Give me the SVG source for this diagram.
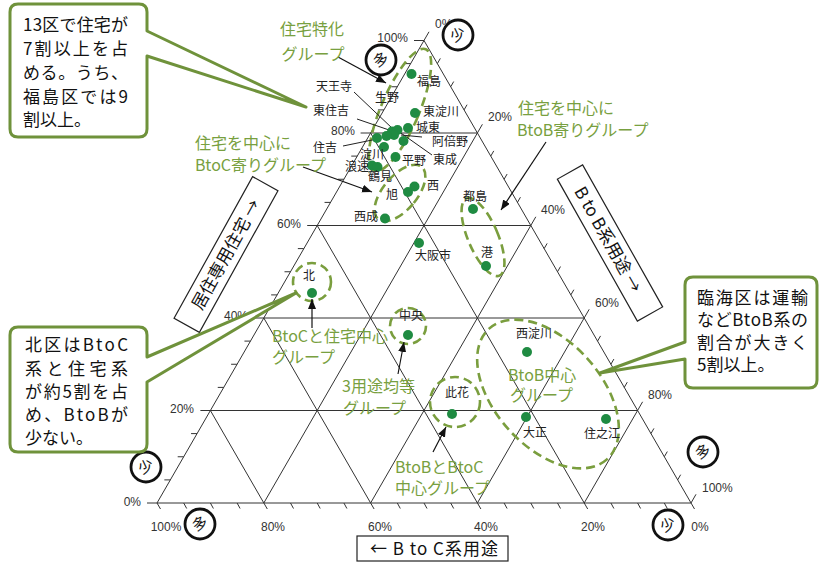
<svg xmlns="http://www.w3.org/2000/svg" width="819" height="562" viewBox="0 0 819 562">
<style>
.lbl{font-family:"Noto Sans CJK JP",sans-serif;font-size:12px;fill:#222}
.grp{font-family:"Noto Sans CJK JP",sans-serif;font-size:16px;fill:#78a040}
.pct{font-family:"Liberation Sans Narrow","Liberation Sans",sans-serif;font-size:12px;fill:#333}
.co{font-family:"Noto Sans CJK JP",sans-serif;font-size:17px;fill:#111}
.ax{font-family:"Noto Sans CJK JP",sans-serif;font-size:17px;fill:#111}
.grid{stroke:#333;stroke-width:1;fill:none}
.dash{fill:none;stroke:#7a9e3e;stroke-width:2.6;stroke-dasharray:9 5}
.dot{fill:#1f8b42}
.callout{fill:#fff;stroke:#6f923b;stroke-width:3;stroke-linejoin:round}
.arr{stroke:#111;stroke-width:1.2;fill:none;marker-end:url(#ah)}
.lead{stroke:#222;stroke-width:1;fill:none}
.qc{fill:#fff;stroke:#111;stroke-width:2.8}
.qt{font-family:"Noto Sans CJK JP",sans-serif;font-size:15px;fill:#111;text-anchor:middle}
.box{fill:#fff;stroke:#222;stroke-width:1.2}
</style>
<defs>
<marker id="ah" markerWidth="11" markerHeight="9" refX="10" refY="4" orient="auto" markerUnits="userSpaceOnUse"><path d="M0,0 L10,4 L0,8 z" fill="#111"/></marker>
</defs>
<rect width="819" height="562" fill="#fff"/>

<g id="grid">
<path class="grid" stroke-width="1.2" d="M147,503 H691 M157,503 L429,31.8 M424,40.5 L694.5,509 M414,40.5 H424"/>
<path class="grid" d="M200.4,410.5 H637.6 M253.8,318 H584.2 M307.2,225.5 H530.8 M360.6,133 H477.4
M267.3,509 L210.4,410.5 M374.1,509 L263.8,318 M480.9,509 L317.2,225.5 M587.7,509 L370.6,133 M157,503 L160.5,509
M263.8,503 L482.4,124.3 M370.6,503 L535.8,216.8 M477.4,503 L589.2,309.3 M584.2,503 L642.6,401.8 M691,503 L696,494.3"/>
<path class="grid" d="M183.7,503l3,5.5M210.4,503l3,5.5M237.1,503l3,5.5M290.5,503l3,5.5M317.2,503l3,5.5M343.9,503l3,5.5M397.3,503l3,5.5M424,503l3,5.5M450.7,503l3,5.5M504.1,503l3,5.5M530.8,503l3,5.5M557.5,503l3,5.5M610.9,503l3,5.5M637.6,503l3,5.5M664.3,503l3,5.5
M170.35,479.9h-6M183.7,456.75h-6M197.05,433.6h-6M223.75,387.4h-6M237.1,364.25h-6M250.45,341.1h-6M277.15,294.9h-6M290.5,271.75h-6M303.85,248.6h-6M330.55,202.4h-6M343.9,179.25h-6M357.25,156.1h-6M383.95,109.9h-6M397.3,86.75h-6M410.65,63.6h-6
M437.35,63.6l3,-5.2M450.7,86.75l3,-5.2M464.05,109.9l3,-5.2M490.75,156.1l3,-5.2M504.1,179.25l3,-5.2M517.45,202.4l3,-5.2M544.15,248.6l3,-5.2M557.5,271.75l3,-5.2M570.85,294.9l3,-5.2M597.55,341.1l3,-5.2M610.9,364.25l3,-5.2M624.25,387.4l3,-5.2M650.95,433.6l3,-5.2M664.3,456.75l3,-5.2M677.65,479.9l3,-5.2"/>
</g>

<g id="axis-labels">
<text class="pct" text-anchor="end" x="408" y="42">100%</text>
<text class="pct" text-anchor="end" x="355" y="135">80%</text>
<text class="pct" text-anchor="end" x="301" y="228">60%</text>
<text class="pct" text-anchor="end" x="248" y="320">40%</text>
<text class="pct" text-anchor="end" x="194" y="413">20%</text>
<text class="pct" text-anchor="end" x="141" y="506">0%</text>
<text class="pct" x="435" y="28">0%</text>
<text class="pct" x="488" y="121">20%</text>
<text class="pct" x="541" y="214">40%</text>
<text class="pct" x="595" y="307">60%</text>
<text class="pct" x="648" y="399">80%</text>
<text class="pct" x="702" y="492">100%</text>
<text class="pct" text-anchor="middle" x="166" y="531">100%</text>
<text class="pct" text-anchor="middle" x="273" y="531">80%</text>
<text class="pct" text-anchor="middle" x="380" y="531">60%</text>
<text class="pct" text-anchor="middle" x="486" y="531">40%</text>
<text class="pct" text-anchor="middle" x="593" y="531">20%</text>
<text class="pct" text-anchor="middle" x="700" y="531">0%</text>
</g>

<g id="amount-marks">
<circle class="qc" cx="458" cy="35" r="15"/><text class="qt" x="458" y="40" transform="rotate(-25 458 35)">少</text>
<circle class="qc" cx="381" cy="60" r="15"/><text class="qt" x="381" y="65" transform="rotate(-25 381 60)">多</text>
<circle class="qc" cx="146" cy="467" r="15"/><text class="qt" x="146" y="472" transform="rotate(-25 146 467)">少</text>
<circle class="qc" cx="200" cy="524" r="15"/><text class="qt" x="200" y="529" transform="rotate(-25 200 524)">多</text>
<circle class="qc" cx="703" cy="452" r="15"/><text class="qt" x="703" y="457" transform="rotate(-25 703 452)">多</text>
<circle class="qc" cx="668" cy="525" r="15"/><text class="qt" x="668" y="530" transform="rotate(-25 668 525)">少</text>
</g>

<g id="axis-boxes">
<g id="axis-left" transform="translate(226,254.5) rotate(-61)">
<rect class="box" x="-81" y="-14.5" width="162" height="29"/>
<text class="ax" x="0" y="6" text-anchor="middle">居住専用住宅 →</text>
</g>
<g id="axis-right" transform="translate(610,243) rotate(60.6)">
<rect class="box" x="-81.5" y="-14.5" width="163" height="29"/>
<text class="ax" x="-4" y="6" text-anchor="middle">B to B系用途 →</text>
</g>
<g id="axis-bottom">
<rect class="box" x="357" y="536" width="151" height="25"/>
<text class="ax" x="434" y="555" text-anchor="middle" textLength="128" lengthAdjust="spacing">← B to C系用途</text>
</g>
</g>

<g id="groups">
<ellipse class="dash" cx="400" cy="110" rx="19" ry="66" transform="rotate(23 400 110)"/>
<ellipse class="dash" cx="400" cy="193" rx="17" ry="34" transform="rotate(40 400 193)"/>
<ellipse class="dash" cx="483" cy="237" rx="15" ry="42" transform="rotate(-23 483 237)"/>
<ellipse class="dash" cx="548" cy="394" rx="88" ry="53" transform="rotate(48 548 394)"/>
<circle class="dash" cx="312" cy="282" r="19"/>
<circle class="dash" cx="408" cy="326" r="18"/>
<circle class="dash" cx="455" cy="402" r="25"/>
</g>

<g id="connectors">
<path class="lead" d="M354,92 L393,129 M357,119 L392,131 M343,146 L377,139 M401,135 L422,137 M398,131 L432,155"/>
<line class="arr" x1="338" y1="57" x2="386" y2="83"/>
<line class="arr" x1="303" y1="167" x2="372" y2="192"/>
<line class="arr" x1="546" y1="142" x2="501" y2="210"/>
<line class="arr" x1="312" y1="328" x2="312" y2="299"/>
<line class="arr" x1="398" y1="374" x2="404" y2="342"/>
<line class="arr" x1="433" y1="452" x2="446" y2="427"/>
</g>

<g id="districts">
<circle class="dot" cx="411.5" cy="74" r="5"/>
<circle class="dot" cx="415" cy="113" r="5"/>
<circle class="dot" cx="408" cy="128" r="5"/>
<circle class="dot" cx="392" cy="131.5" r="5"/>
<circle class="dot" cx="397.5" cy="130" r="5"/>
<circle class="dot" cx="394" cy="135" r="5"/>
<circle class="dot" cx="386.5" cy="136" r="5"/>
<circle class="dot" cx="403.5" cy="141" r="5"/>
<circle class="dot" cx="377" cy="138" r="5"/>
<circle class="dot" cx="384" cy="147" r="5"/>
<circle class="dot" cx="395.5" cy="157" r="5"/>
<circle class="dot" cx="372" cy="165.5" r="5"/>
<circle class="dot" cx="377.5" cy="167" r="5"/>
<circle class="dot" cx="414.5" cy="186.5" r="5"/>
<circle class="dot" cx="408" cy="192" r="5"/>
<circle class="dot" cx="385" cy="218.5" r="5"/>
<circle class="dot" cx="473" cy="209" r="5"/>
<circle class="dot" cx="419" cy="243" r="5"/>
<circle class="dot" cx="486" cy="266" r="5"/>
<circle class="dot" cx="312" cy="293" r="5"/>
<circle class="dot" cx="408" cy="335" r="5"/>
<circle class="dot" cx="527" cy="352" r="5"/>
<circle class="dot" cx="452" cy="414" r="5"/>
<circle class="dot" cx="526" cy="417" r="5"/>
<circle class="dot" cx="606" cy="419" r="5"/>
<text class="lbl" x="417" y="86">福島</text>
<text class="lbl" x="423" y="116">東淀川</text>
<text class="lbl" x="416" y="132">城東</text>
<text class="lbl" x="432" y="146">阿倍野</text>
<text class="lbl" x="433" y="164">東成</text>
<text class="lbl" x="402" y="165">平野</text>
<text class="lbl" x="360" y="159">淀川</text>
<text class="lbl" x="345" y="171">浪速</text>
<text class="lbl" x="368" y="181">鶴見</text>
<text class="lbl" x="427" y="190">西</text>
<text class="lbl" x="386" y="199">旭</text>
<text class="lbl" x="354" y="221">西成</text>
<text class="lbl" x="316" y="91">天王寺</text>
<text class="lbl" x="313" y="115">東住吉</text>
<text class="lbl" x="313" y="152">住吉</text>
<text class="lbl" x="375" y="102">生野</text>
<text class="lbl" x="463" y="201">都島</text>
<text class="lbl" x="415" y="260">大阪市</text>
<text class="lbl" x="481" y="257">港</text>
<text class="lbl" x="303" y="280">北</text>
<text class="lbl" x="399" y="320">中央</text>
<text class="lbl" x="516" y="338">西淀川</text>
<text class="lbl" x="445" y="397">此花</text>
<text class="lbl" x="523" y="437">大正</text>
<text class="lbl" x="584" y="438">住之江</text>
</g>

<g id="group-labels">
<text class="grp" x="312" y="35" text-anchor="middle">住宅特化</text>
<text class="grp" x="313" y="60" text-anchor="middle">グループ</text>
<text class="grp" x="195" y="149">住宅を中心に</text>
<text class="grp" x="195" y="171">BtoC寄りグループ</text>
<text class="grp" x="518" y="114">住宅を中心に</text>
<text class="grp" x="517" y="136">BtoB寄りグループ</text>
<text class="grp" x="272" y="342">BtoCと住宅中心</text>
<text class="grp" x="272" y="363">グループ</text>
<text class="grp" x="342" y="392">3用途均等</text>
<text class="grp" x="343" y="414">グループ</text>
<text class="grp" x="395" y="473">BtoBとBtoC</text>
<text class="grp" x="395" y="494">中心グループ</text>
<text class="grp" x="508" y="381">BtoB中心</text>
<text class="grp" x="510" y="401">グループ</text>
</g>

<g id="callout-top">
<path class="callout" d="M18,4 H139 Q147,4 147,12 V31 L306,107 L147,56 V129 Q147,137 139,137 H18 Q10,137 10,129 V12 Q10,4 18,4 Z"/>
<text class="co" x="23" y="31" textLength="105" lengthAdjust="spacing">13区で住宅が</text>
<text class="co" x="23" y="55" textLength="105" lengthAdjust="spacing">7割以上を占</text>
<text class="co" x="23" y="79" textLength="105" lengthAdjust="spacing">める。うち、</text>
<text class="co" x="23" y="103" textLength="105" lengthAdjust="spacing">福島区では9</text>
<text class="co" x="23" y="126">割以上。</text>
</g>

<g id="callout-north">
<path class="callout" d="M18,327 H139 Q147,327 147,335 V357 L296,293 L147,382 V444 Q147,452 139,452 H18 Q10,452 10,444 V335 Q10,327 18,327 Z"/>
<text class="co" x="25" y="351" textLength="103" lengthAdjust="spacing">北区はBtoC</text>
<text class="co" x="25" y="375" textLength="103" lengthAdjust="spacing">系と住宅系</text>
<text class="co" x="25" y="398" textLength="103" lengthAdjust="spacing">が約5割を占</text>
<text class="co" x="25" y="421" textLength="103" lengthAdjust="spacing">め、BtoBが</text>
<text class="co" x="25" y="444">少ない。</text>
</g>

<g id="callout-rinkai">
<path class="callout" d="M693,277 H809 Q817,277 817,285 V380 Q817,388 809,388 H693 Q685,388 685,380 V359 L600,373 L685,342 V285 Q685,277 693,277 Z"/>
<text class="co" x="697" y="304" textLength="111" lengthAdjust="spacing">臨海区は運輸</text>
<text class="co" x="697" y="326" textLength="111" lengthAdjust="spacing">などBtoB系の</text>
<text class="co" x="697" y="349" textLength="111" lengthAdjust="spacing">割合が大きく</text>
<text class="co" x="697" y="371">5割以上。</text>
</g>
</svg>
